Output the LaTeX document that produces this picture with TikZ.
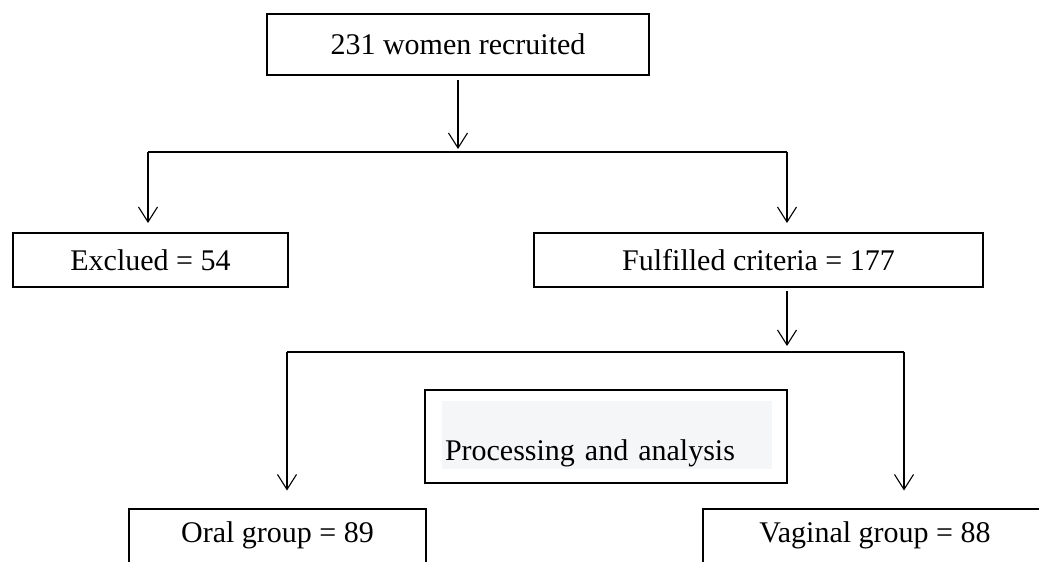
\documentclass[tikz,border=0pt]{standalone}
\usepackage{fontspec}
\setmainfont{Liberation Serif}
\usepackage{xcolor}
\usepackage{tikz}
\usetikzlibrary{arrows.meta, positioning}
\definecolor{procgray}{RGB}{245,246,248}

\begin{document}
\begin{tikzpicture}[x=0.5pt, y=-0.5pt,
    >={Straight Barb[length=7.5pt, width=9.5pt]},
    every node/.style={font=\fontsize{15}{18}\selectfont},
    box/.style={draw, line width=1pt, inner sep=0pt, minimum height=27pt},
    link/.style={line width=0.55pt},
    greytext/.style={fill=procgray, inner xsep=1.5pt, inner ysep=0pt,
        text width=162pt, align=left, text height=29.5pt, text depth=4.5pt}]

    \useasboundingbox (0,0) rectangle (1039,562);
    \clip (0,0) rectangle (1039,562);

    % Boxes
    \node (recruit) at (458, 44.5) [box, minimum width=191pt, minimum height=30.5pt] {231 women recruited};
    \node (excl) at (150.5, 260) [box, minimum width=137.5pt] {Exclued = 54};
    \node (fulfil) at (758.5, 260) [box, minimum width=224.5pt] {Fulfilled criteria = 177};
    \node (process) at (606, 436.5) [box, minimum width=181pt, minimum height=46.5pt] {};
    \node (proctxt) at (607, 435) [greytext] {Processing and analysis};
    \node (oral) at (277.5, 535.5) [box, minimum width=148.5pt] {Oral group = 89};
    \node (vagin) at (875, 535.5) [box, minimum width=172pt] {Vaginal group = 88};

    % First split
    \coordinate (splitA) at (458, 152);
    \coordinate (splitAL) at (148, 152);
    \coordinate (splitAR) at (787, 152);
    \draw[->, link, shorten <=2pt, shorten >=1.5pt] (recruit.south) -- (splitA);
    \draw[link] (splitAL) -- (splitAR);
    \draw[->, link, shorten >=4.5pt] (splitAL) -- (excl.north -| splitAL);
    \draw[->, link, shorten >=4.5pt] (splitAR) -- (fulfil.north -| splitAR);

    % Second split
    \coordinate (splitB) at (787, 352);
    \coordinate (splitBL) at (287, 352);
    \coordinate (splitBR) at (904, 352);
    \draw[->, link, shorten <=1.5pt, shorten >=3pt] (fulfil.south -| splitB) -- (splitB);
    \draw[link] (splitBL) -- (splitBR);
    \draw[->, link, shorten >=8.5pt] (splitBL) -- (oral.north -| splitBL);
    \draw[->, link, shorten >=8.5pt] (splitBR) -- (vagin.north -| splitBR);

\end{tikzpicture}
\end{document}
